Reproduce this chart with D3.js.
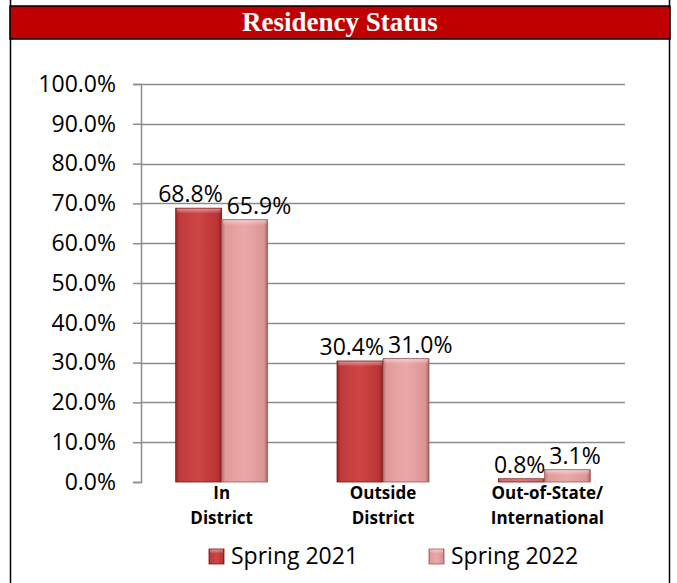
<!DOCTYPE html>
<html>
<head>
<meta charset="utf-8">
<script src="https://cdn.jsdelivr.net/npm/d3@7"></script>
<style>
  body { margin: 0; background: #fff; }
  svg { display: block; }
</style>
</head>
<body>
<div id="chart"></div>
<script>
// data
var categories = [["In", "District"], ["Outside", "District"], ["Out-of-State/", "International"]];
var seriesNames = ["Spring 2021", "Spring 2022"];
var spring2021 = [68.8, 30.4, 0.8];
var spring2022 = [65.9, 31.0, 3.1];
var yTicks = [0, 10, 20, 30, 40, 50, 60, 70, 80, 90, 100];

var svgWidth = 677;
var svgHeight = 583;
var plot = { left: 141, right: 625, top: 84, bottom: 482 };
var font = "'Open Sans', sans-serif";

var svg = d3.select("#chart").append("svg")
  .attr("width", svgWidth)
  .attr("height", svgHeight);

// gradients for the bevelled bars
var defs = svg.append("defs");
function addGrad(id, stops) {
  var g = defs.append("linearGradient").attr("id", id)
    .attr("x1", "0%").attr("x2", "100%").attr("y1", "0%").attr("y2", "0%");
  stops.forEach(function(s) {
    g.append("stop").attr("offset", s[0]).attr("stop-color", s[1]);
  });
}
addGrad("g0", [["0%", "#9e2020"], ["8%", "#c03a3a"], ["50%", "#cf4545"], ["92%", "#b83434"], ["100%", "#8a1a1a"]]);
addGrad("g1", [["0%", "#b87070"], ["8%", "#e29a9a"], ["50%", "#eba8a8"], ["92%", "#dc9494"], ["100%", "#a86262"]]);
var topGrad = defs.append("linearGradient").attr("id", "gtop")
  .attr("x1", "0%").attr("x2", "0%").attr("y1", "0%").attr("y2", "100%");
topGrad.append("stop").attr("offset", "0%").attr("stop-color", "#fff").attr("stop-opacity", 0.45);
topGrad.append("stop").attr("offset", "100%").attr("stop-color", "#fff").attr("stop-opacity", 0);

// frame and title band
svg.append("line").attr("x1", 10.5).attr("x2", 10.5).attr("y1", 0).attr("y2", svgHeight)
  .attr("stroke", "#000").attr("stroke-width", 1.5);
svg.append("line").attr("x1", 669.5).attr("x2", 669.5).attr("y1", 0).attr("y2", svgHeight)
  .attr("stroke", "#000").attr("stroke-width", 1.5);
svg.append("rect").attr("x", 10).attr("y", 6).attr("width", 660).attr("height", 33)
  .attr("fill", "#c00000").attr("stroke", "#000").attr("stroke-width", 1.5);
svg.append("text")
  .attr("x", 340).attr("y", 31)
  .attr("text-anchor", "middle")
  .attr("font-family", "'Liberation Serif', 'Times New Roman', serif")
  .attr("font-weight", "bold")
  .attr("font-size", "27px")
  .attr("fill", "#fff")
  .text("Residency Status");

// scales
var x0 = d3.scaleBand()
  .domain(d3.range(categories.length))
  .range([plot.left, plot.right])
  .paddingInner(0.43)
  .paddingOuter(0.215);
var x1 = d3.scaleBand()
  .domain(d3.range(seriesNames.length))
  .range([0, x0.bandwidth()]);
var y = d3.scaleLinear().domain([0, 100]).range([plot.bottom, plot.top]);

// gridlines
svg.append("g").selectAll("line")
  .data(yTicks.filter(d => d > 0))
  .enter().append("line")
  .attr("x1", plot.left).attr("x2", plot.right)
  .attr("y1", d => Math.round(y(d)) + 0.5).attr("y2", d => Math.round(y(d)) + 0.5)
  .attr("stroke", "#8c8c8c").attr("stroke-width", 1.5);

// y axis
var yAxis = svg.append("g")
  .attr("transform", `translate(${plot.left}, 0)`)
  .call(d3.axisLeft(y).tickValues(yTicks).tickSize(8).tickPadding(17)
    .tickFormat(d => d.toFixed(1) + "%"));
yAxis.select(".domain").attr("stroke", "#8c8c8c").attr("stroke-width", 1.5);
yAxis.selectAll(".tick line").attr("stroke", "#8c8c8c").attr("stroke-width", 1.5);
yAxis.selectAll(".tick text")
  .attr("font-family", font).attr("font-size", "23px").attr("fill", "#000");

// bars
var allSeries = [spring2021, spring2022];
var barGroups = svg.append("g").selectAll("g")
  .data(allSeries)
  .enter().append("g");

barGroups.each(function(vals, si) {
  var g = d3.select(this);
  vals.forEach(function(v, ci) {
    var bx = x0(ci) + x1(si);
    var bw = x1.bandwidth();
    var by = y(v);
    var bh = plot.bottom - by;
    g.append("rect")
      .attr("x", bx).attr("y", by).attr("width", bw).attr("height", bh)
      .attr("fill", `url(#g${si})`)
      .attr("stroke", si === 0 ? "#7a1515" : "#9a5a5a").attr("stroke-width", 0.8);
    // top bevel
    var bev = Math.min(5, bh);
    g.append("rect")
      .attr("x", bx + 1).attr("y", by + 0.5).attr("width", bw - 2).attr("height", bev)
      .attr("fill", "url(#gtop)");
  });
});

// value labels
svg.append("g").selectAll("text")
  .data(allSeries[0].map((v, i) => ({ v: v, ci: i, si: 0 }))
    .concat(allSeries[1].map((v, i) => ({ v: v, ci: i, si: 1 }))))
  .enter().append("text")
  .attr("x", d => d.si === 0 ? x0(d.ci) + x1.bandwidth() + 1 : x0(d.ci) + x1.bandwidth() + 5)
  .attr("y", d => y(d.v) - 6)
  .attr("text-anchor", d => d.si === 0 ? "end" : "start")
  .attr("font-family", font)
  .attr("font-size", "23px")
  .attr("fill", "#000")
  .text(d => d.v.toFixed(1) + "%");

// category labels
var catG = svg.append("g").selectAll("text")
  .data(categories)
  .enter().append("text")
  .attr("x", (d, i) => x0(i) + x0.bandwidth() / 2 + (i === 2 ? 3 : 0))
  .attr("y", 499)
  .attr("text-anchor", "middle")
  .attr("font-family", font)
  .attr("font-weight", "bold")
  .attr("font-size", "17px")
  .attr("fill", "#000");
catG.each(function(d) {
  var t = d3.select(this);
  d.forEach(function(line, li) {
    t.append("tspan")
      .attr("x", t.attr("x"))
      .attr("dy", li === 0 ? 0 : 25)
      .text(line);
  });
});

// legend
var legendX = [209, 429];
var legend = svg.append("g").selectAll("g")
  .data(seriesNames)
  .enter().append("g")
  .attr("transform", (d, i) => `translate(${legendX[i]}, 549)`);
legend.append("rect")
  .attr("width", 15).attr("height", 15)
  .attr("fill", (d, i) => `url(#g${i})`)
  .attr("stroke", (d, i) => i === 0 ? "#7a1515" : "#9a5a5a").attr("stroke-width", 0.8);
legend.append("rect")
  .attr("x", 1).attr("y", 0.5).attr("width", 13).attr("height", 4)
  .attr("fill", "url(#gtop)");
legend.append("text")
  .attr("x", 22).attr("y", 15)
  .attr("font-family", font)
  .attr("font-size", "23px")
  .attr("fill", "#000")
  .text(d => d);
</script>
</body>
</html>
